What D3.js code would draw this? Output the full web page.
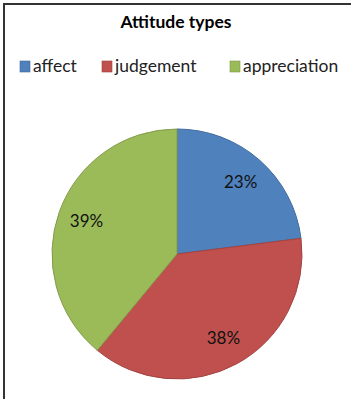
<!DOCTYPE html>
<html><head><meta charset="utf-8">
<script src="https://cdn.jsdelivr.net/npm/d3@7"></script>
<style>body{margin:0;background:#fff}svg{display:block}</style>
</head><body><svg id="c" width="351" height="399"></svg>
<script>
const categories = ["affect", "judgement", "appreciation"];
const values = [23, 38, 39];
const colors = ["#4F81BD", "#C0504D", "#9BBB59"];
const title = "Attitude types";

const svg = d3.select("#c");
const font = "Lato, 'Open Sans', sans-serif";
// frame (left and top edges)
svg.append("path").attr("d", "M4,399 V4 H351").attr("fill", "none").attr("stroke", "#333").attr("stroke-width", 2);

svg.append("text").attr("x", 176).attr("y", 28).attr("text-anchor", "middle")
  .attr("font-family", font).attr("font-weight", "bold").attr("font-size", 17.5).attr("fill", "#000").text(title);

const legX = [20, 102, 230];
const lg = svg.append("g");
categories.forEach((c, i) => {
  lg.append("rect").attr("x", legX[i]).attr("y", 61).attr("width", 10).attr("height", 11)
    .attr("fill", colors[i]).attr("stroke", d3.color(colors[i]).darker(0.6)).attr("stroke-width", 0.6);
  lg.append("text").attr("x", legX[i] + 13).attr("y", 72).attr("font-family", font)
    .attr("font-size", 17.5).attr("fill", "#222").text(c);
});

const cx = 177, cy = 254, r = 125;
const pie = d3.pie().sort(null).value(d => d)(values);
const arc = d3.arc().innerRadius(0).outerRadius(r);
const labArc = d3.arc().innerRadius(r * 0.77).outerRadius(r * 0.77);
const g = svg.append("g").attr("transform", `translate(${cx},${cy})`);
g.selectAll("path").data(pie).join("path").attr("d", arc)
  .attr("fill", (d, i) => colors[i])
  .attr("stroke", (d, i) => d3.color(colors[i]).darker(0.5)).attr("stroke-width", 1);
g.selectAll("text").data(pie).join("text")
  .attr("transform", d => `translate(${labArc.centroid(d)})`)
  .attr("text-anchor", "middle").attr("dy", "0.35em")
  .attr("font-family", font).attr("font-size", 17).attr("fill", "#111")
  .text(d => d.data + "%");
</script></body></html>
